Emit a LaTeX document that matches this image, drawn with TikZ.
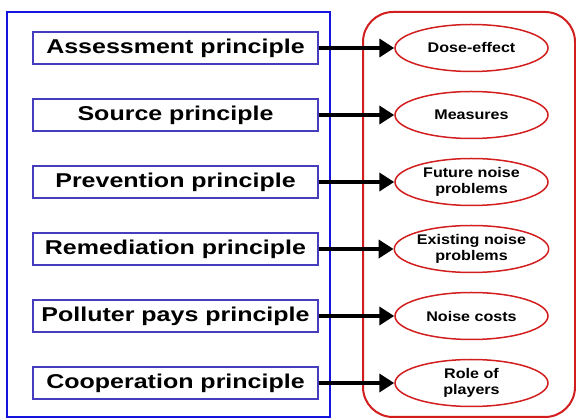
\documentclass[tikz,border=0pt]{standalone}
\usepackage{fontspec}
\setmainfont{Liberation Sans}
\newfontfamily\boxfont[FakeStretch=1.25]{Liberation Sans}
\newfontfamily\aimfont[FakeStretch=1.15]{Liberation Sans}
\usetikzlibrary{arrows.meta,shapes.geometric}
\definecolor{frameblue}{RGB}{20,20,220}
\definecolor{boxblue}{RGB}{70,60,190}
\definecolor{framered}{RGB}{210,30,30}
\tikzset{
  principle/.style={draw=boxblue,line width=1.5pt,minimum width=285pt,minimum height=32pt,
    inner sep=0pt,font=\boxfont\bfseries\fontsize{20}{22}\selectfont},
  aim/.style={draw=framered,line width=1.5pt,ellipse,minimum width=153pt,minimum height=47pt,
    inner sep=0pt,align=center,font=\aimfont\bfseries\fontsize{14}{16}\selectfont},
  link/.style={line width=4.5pt,-{Triangle[length=15pt,width=18pt]}}
}
\begin{document}
\begin{tikzpicture}[x=1pt,y=-1pt]
\useasboundingbox (0,0) rectangle (576,419);
\draw[frameblue,line width=2pt] (7,12) rectangle (330,417);
\draw[framered,line width=2pt,rounded corners=30pt] (363,12) rectangle (575,417);
%
\node[principle] (p1) at (175.5,48) {Assessment principle};
\node[principle] (p2) at (175.5,115) {Source principle};
\node[principle] (p3) at (175.5,182) {Prevention principle};
\node[principle] (p4) at (175.5,249) {Remediation principle};
\node[principle] (p5) at (175.5,316) {Polluter pays principle};
\node[principle] (p6) at (175.5,383) {Cooperation principle};
%
\node[aim] (a1) at (471.5,48) {Dose-effect};
\node[aim] (a2) at (471.5,115) {Measures};
\node[aim] (a3) at (471.5,182) {Future noise\\problems};
\node[aim] (a4) at (471.5,249) {Existing noise\\problems};
\node[aim] (a5) at (471.5,316) {Noise costs};
\node[aim] (a6) at (471.5,383) {Role of\\players};
%
\foreach \i in {1,...,6}
  \draw[link] (p\i.east) -- (a\i.west);
\end{tikzpicture}
\end{document}
